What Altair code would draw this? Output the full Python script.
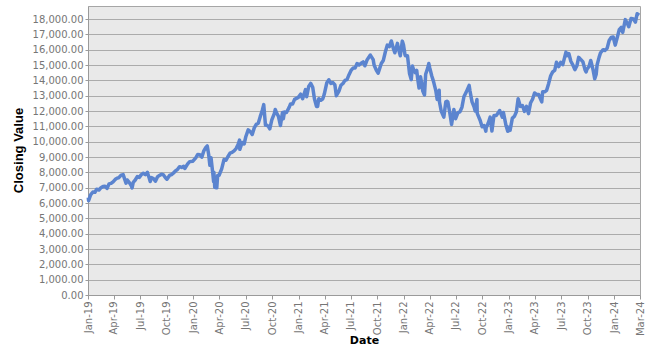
import altair as alt
import pandas as pd

dates = [
    "2019-01-02","2019-01-03","2019-01-10","2019-01-18","2019-01-25","2019-01-31","2019-02-08","2019-02-15","2019-02-22","2019-03-01",
    "2019-03-08","2019-03-15","2019-03-22","2019-03-29","2019-04-05","2019-04-12","2019-04-18","2019-04-26","2019-05-03","2019-05-13",
    "2019-05-17","2019-05-24","2019-05-31","2019-06-03","2019-06-07","2019-06-14","2019-06-21","2019-06-28","2019-07-05","2019-07-12",
    "2019-07-19","2019-07-26","2019-08-02","2019-08-05","2019-08-09","2019-08-16","2019-08-23","2019-08-30","2019-09-06","2019-09-13",
    "2019-09-20","2019-09-27","2019-10-02","2019-10-11","2019-10-18","2019-10-25","2019-11-01","2019-11-08","2019-11-15","2019-11-22",
    "2019-11-29","2019-12-03","2019-12-13","2019-12-20","2019-12-31",
    "2020-01-10","2020-01-17","2020-01-24","2020-01-31","2020-02-07","2020-02-14","2020-02-19","2020-02-24","2020-02-28","2020-03-03",
    "2020-03-09","2020-03-12","2020-03-13","2020-03-16","2020-03-20","2020-03-23","2020-03-26","2020-03-31","2020-04-09","2020-04-17",
    "2020-04-24","2020-04-30","2020-05-08","2020-05-15","2020-05-22","2020-05-29","2020-06-05","2020-06-10","2020-06-11","2020-06-19",
    "2020-06-26","2020-07-02","2020-07-10","2020-07-17","2020-07-24","2020-07-31","2020-08-07","2020-08-14","2020-08-21","2020-08-28",
    "2020-09-02","2020-09-08","2020-09-11","2020-09-18","2020-09-23","2020-09-30","2020-10-09","2020-10-12","2020-10-16","2020-10-23",
    "2020-10-30","2020-11-06","2020-11-09","2020-11-13","2020-11-20","2020-11-30","2020-12-04","2020-12-11","2020-12-18","2020-12-31",
    "2021-01-08","2021-01-15","2021-01-25","2021-01-29","2021-02-05","2021-02-12","2021-02-19","2021-02-25","2021-03-04","2021-03-08",
    "2021-03-12","2021-03-19","2021-03-26","2021-03-31","2021-04-09","2021-04-16","2021-04-23","2021-04-30","2021-05-07","2021-05-12",
    "2021-05-21","2021-05-28","2021-06-04","2021-06-11","2021-06-18","2021-06-25","2021-07-02","2021-07-09","2021-07-16","2021-07-23",
    "2021-07-30","2021-08-06","2021-08-13","2021-08-19","2021-08-27","2021-09-07","2021-09-17","2021-09-20","2021-09-28","2021-10-04",
    "2021-10-08","2021-10-15","2021-10-22","2021-10-29","2021-11-05","2021-11-12","2021-11-19","2021-11-26","2021-12-01","2021-12-10",
    "2021-12-13","2021-12-20","2021-12-27","2021-12-31",
    "2022-01-05","2022-01-07","2022-01-14","2022-01-21","2022-01-27","2022-01-31","2022-02-04","2022-02-10","2022-02-15","2022-02-18",
    "2022-02-23","2022-02-28","2022-03-04","2022-03-08","2022-03-14","2022-03-18","2022-03-25","2022-03-29","2022-04-01","2022-04-08",
    "2022-04-14","2022-04-22","2022-04-27","2022-04-29","2022-05-04","2022-05-05","2022-05-11","2022-05-20","2022-05-27","2022-05-31",
    "2022-06-03","2022-06-10","2022-06-16","2022-06-24","2022-06-30","2022-07-08","2022-07-15","2022-07-22","2022-07-29","2022-08-05",
    "2022-08-16","2022-08-19","2022-08-26","2022-09-02","2022-09-06","2022-09-12","2022-09-13","2022-09-23","2022-09-30","2022-10-07",
    "2022-10-13","2022-10-14","2022-10-21","2022-10-28","2022-11-03","2022-11-10","2022-11-18","2022-11-30","2022-12-09","2022-12-13",
    "2022-12-22","2022-12-28","2022-12-30",
    "2023-01-05","2023-01-13","2023-01-20","2023-01-27","2023-02-02","2023-02-10","2023-02-17","2023-02-24","2023-03-03","2023-03-10",
    "2023-03-17","2023-03-24","2023-03-31","2023-04-06","2023-04-14","2023-04-25","2023-04-28","2023-05-05","2023-05-12","2023-05-19",
    "2023-05-26","2023-06-02","2023-06-09","2023-06-15","2023-06-23","2023-06-30","2023-07-07","2023-07-18","2023-07-21","2023-07-28",
    "2023-08-04","2023-08-11","2023-08-18","2023-08-25","2023-08-31","2023-09-08","2023-09-15","2023-09-22","2023-09-26","2023-09-29",
    "2023-10-06","2023-10-12","2023-10-20","2023-10-26","2023-10-31","2023-11-03","2023-11-10","2023-11-15","2023-11-24","2023-11-30",
    "2023-12-08","2023-12-15","2023-12-22","2023-12-29",
    "2024-01-05","2024-01-12","2024-01-19","2024-01-26","2024-01-31","2024-02-09","2024-02-16","2024-02-21","2024-02-29","2024-03-08",
    "2024-03-15","2024-03-21","2024-03-28",
]

closing = [
    6360,6150,6530,6720,6700,6900,6850,7000,7080,7100,
    6950,7250,7280,7380,7530,7620,7650,7820,7850,7300,
    7500,7350,7130,6980,7350,7500,7720,7670,7850,7940,
    7850,8000,7600,7400,7660,7600,7420,7700,7800,7880,
    7830,7650,7550,7800,7850,7960,8100,8200,8370,8320,
    8400,8250,8550,8700,8730,
    8950,9170,9150,8990,9400,9620,9720,9150,8460,8950,
    7950,7400,8000,7020,7000,6990,7800,7810,8230,8830,
    8790,9000,9250,9300,9400,9550,9820,10100,9500,9950,
    9850,10340,10770,10660,10470,10900,11130,11200,11650,12050,
    12420,11080,11100,11000,10840,11420,11850,12100,11900,11650,
    11050,11900,11500,11940,11900,12270,12460,12450,12760,12890,
    13100,12800,13400,12930,13600,13800,13550,12800,12300,12300,
    12800,12700,12800,13090,13850,14040,13800,13860,13700,13000,
    13300,13680,13800,14000,14050,14370,14650,14800,14800,15100,
    15000,15120,15200,14950,15350,15650,15350,15000,14650,14470,
    14700,15100,15300,15850,16300,16200,16570,16070,15800,16410,
    16100,15600,16560,16320,
    15700,15600,15600,14450,14050,14930,14700,14500,14650,14150,
    13500,14240,13850,13300,13050,14400,14800,15100,14830,14300,
    13950,13350,12750,12850,13350,12600,12000,11600,12600,12640,
    12600,11850,11130,12100,11500,11900,11950,12250,12950,13200,
    13670,13300,12600,12270,12000,12750,11850,11400,10970,11050,
    10690,10900,11200,11600,10700,11700,11700,12030,11600,11900,
    11050,10680,10940,
    10740,11540,11650,11950,12800,12300,12350,11980,12300,11830,
    12520,12770,13180,13100,13080,12600,13250,13250,13350,13800,
    14300,14550,14650,15180,14900,15180,15030,15840,15600,15750,
    15250,15000,14700,14950,15500,15350,15200,14700,14550,14720,
    14900,15300,14700,14100,14400,15000,15500,15800,16000,15950,
    16100,16600,16800,16830,
    16300,16800,17300,17450,17130,17960,17700,17500,18040,18000,
    17800,18340,18250,
]

tick_dates = [
    "2019-01-01","2019-04-01","2019-07-01","2019-10-01","2020-01-01","2020-04-01","2020-07-01","2020-10-01",
    "2021-01-01","2021-04-01","2021-07-01","2021-10-01","2022-01-01","2022-04-01","2022-07-01","2022-10-01",
    "2023-01-01","2023-04-01","2023-07-01","2023-10-01","2024-01-01","2024-03-31",
]
y_ticks = list(range(0, 18001, 1000))
x_start = "2019-01-01"
x_end = "2024-03-31"
y_max = 18850

def ms(s):
    return int(pd.Timestamp(s, tz="UTC").value // 10**6)

df = pd.DataFrame({"Date": dates, "Closing Value": closing})

chart = (
    alt.Chart(df)
    .mark_line(color="#5B84CF", strokeWidth=3.5, strokeJoin="round")
    .encode(
        x=alt.X(
            "Date:T",
            scale=alt.Scale(type="utc", domain=[ms(x_start), ms(x_end)]),
            axis=alt.Axis(
                values=[ms(d) for d in tick_dates],
                labelExpr="utcFormat(datum.value, '%b-%y')",
                labelAngle=-90,
                labelFont="DejaVu Sans",
                labelFontSize=10,
                labelColor="#767676",
                labelPadding=2,
                labelOverlap=False,
                labelBound=False,
                labelFlush=False,
                tickSize=4,
                tickColor="#9A9A9A",
                domainColor="#9A9A9A",
                grid=False,
                title="Date",
                titleFont="DejaVu Sans",
                titleFontSize=11,
                titleFontWeight="bold",
                titleColor="#000000",
                titleX=276,
                titleY=45,
                titleAlign="center",
                titleBaseline="middle",
            ),
        ),
        y=alt.Y(
            "Closing Value:Q",
            scale=alt.Scale(domain=[0, y_max], nice=False),
            axis=alt.Axis(
                values=y_ticks,
                format=",.2f",
                labelFont="DejaVu Sans",
                labelFontSize=10,
                labelColor="#767676",
                labelPadding=2,
                tickSize=3,
                tickColor="#9A9A9A",
                domainColor="#9A9A9A",
                grid=True,
                gridColor="#ABABAB",
                gridWidth=1,
                title="Closing Value",
                titleFont="Liberation Sans",
                titleFontSize=13,
                titleFontWeight="bold",
                titleColor="#000000",
                titleX=-70,
                titleY=144,
                titleAngle=-90,
                titleAlign="center",
                titleBaseline="middle",
            ),
        ),
    )
    .properties(
        width=552,
        height=289,
        autosize=alt.AutoSizeParams(type="none"),
        padding={"left": 88, "top": 6, "right": 25, "bottom": 53},
        background="#FFFFFF",
    )
    .configure_view(fill="#E9E9E9", stroke="#A6A6A6", strokeWidth=1)
)

chart.save("out.html", embed_options={"renderer": "svg", "actions": False})
